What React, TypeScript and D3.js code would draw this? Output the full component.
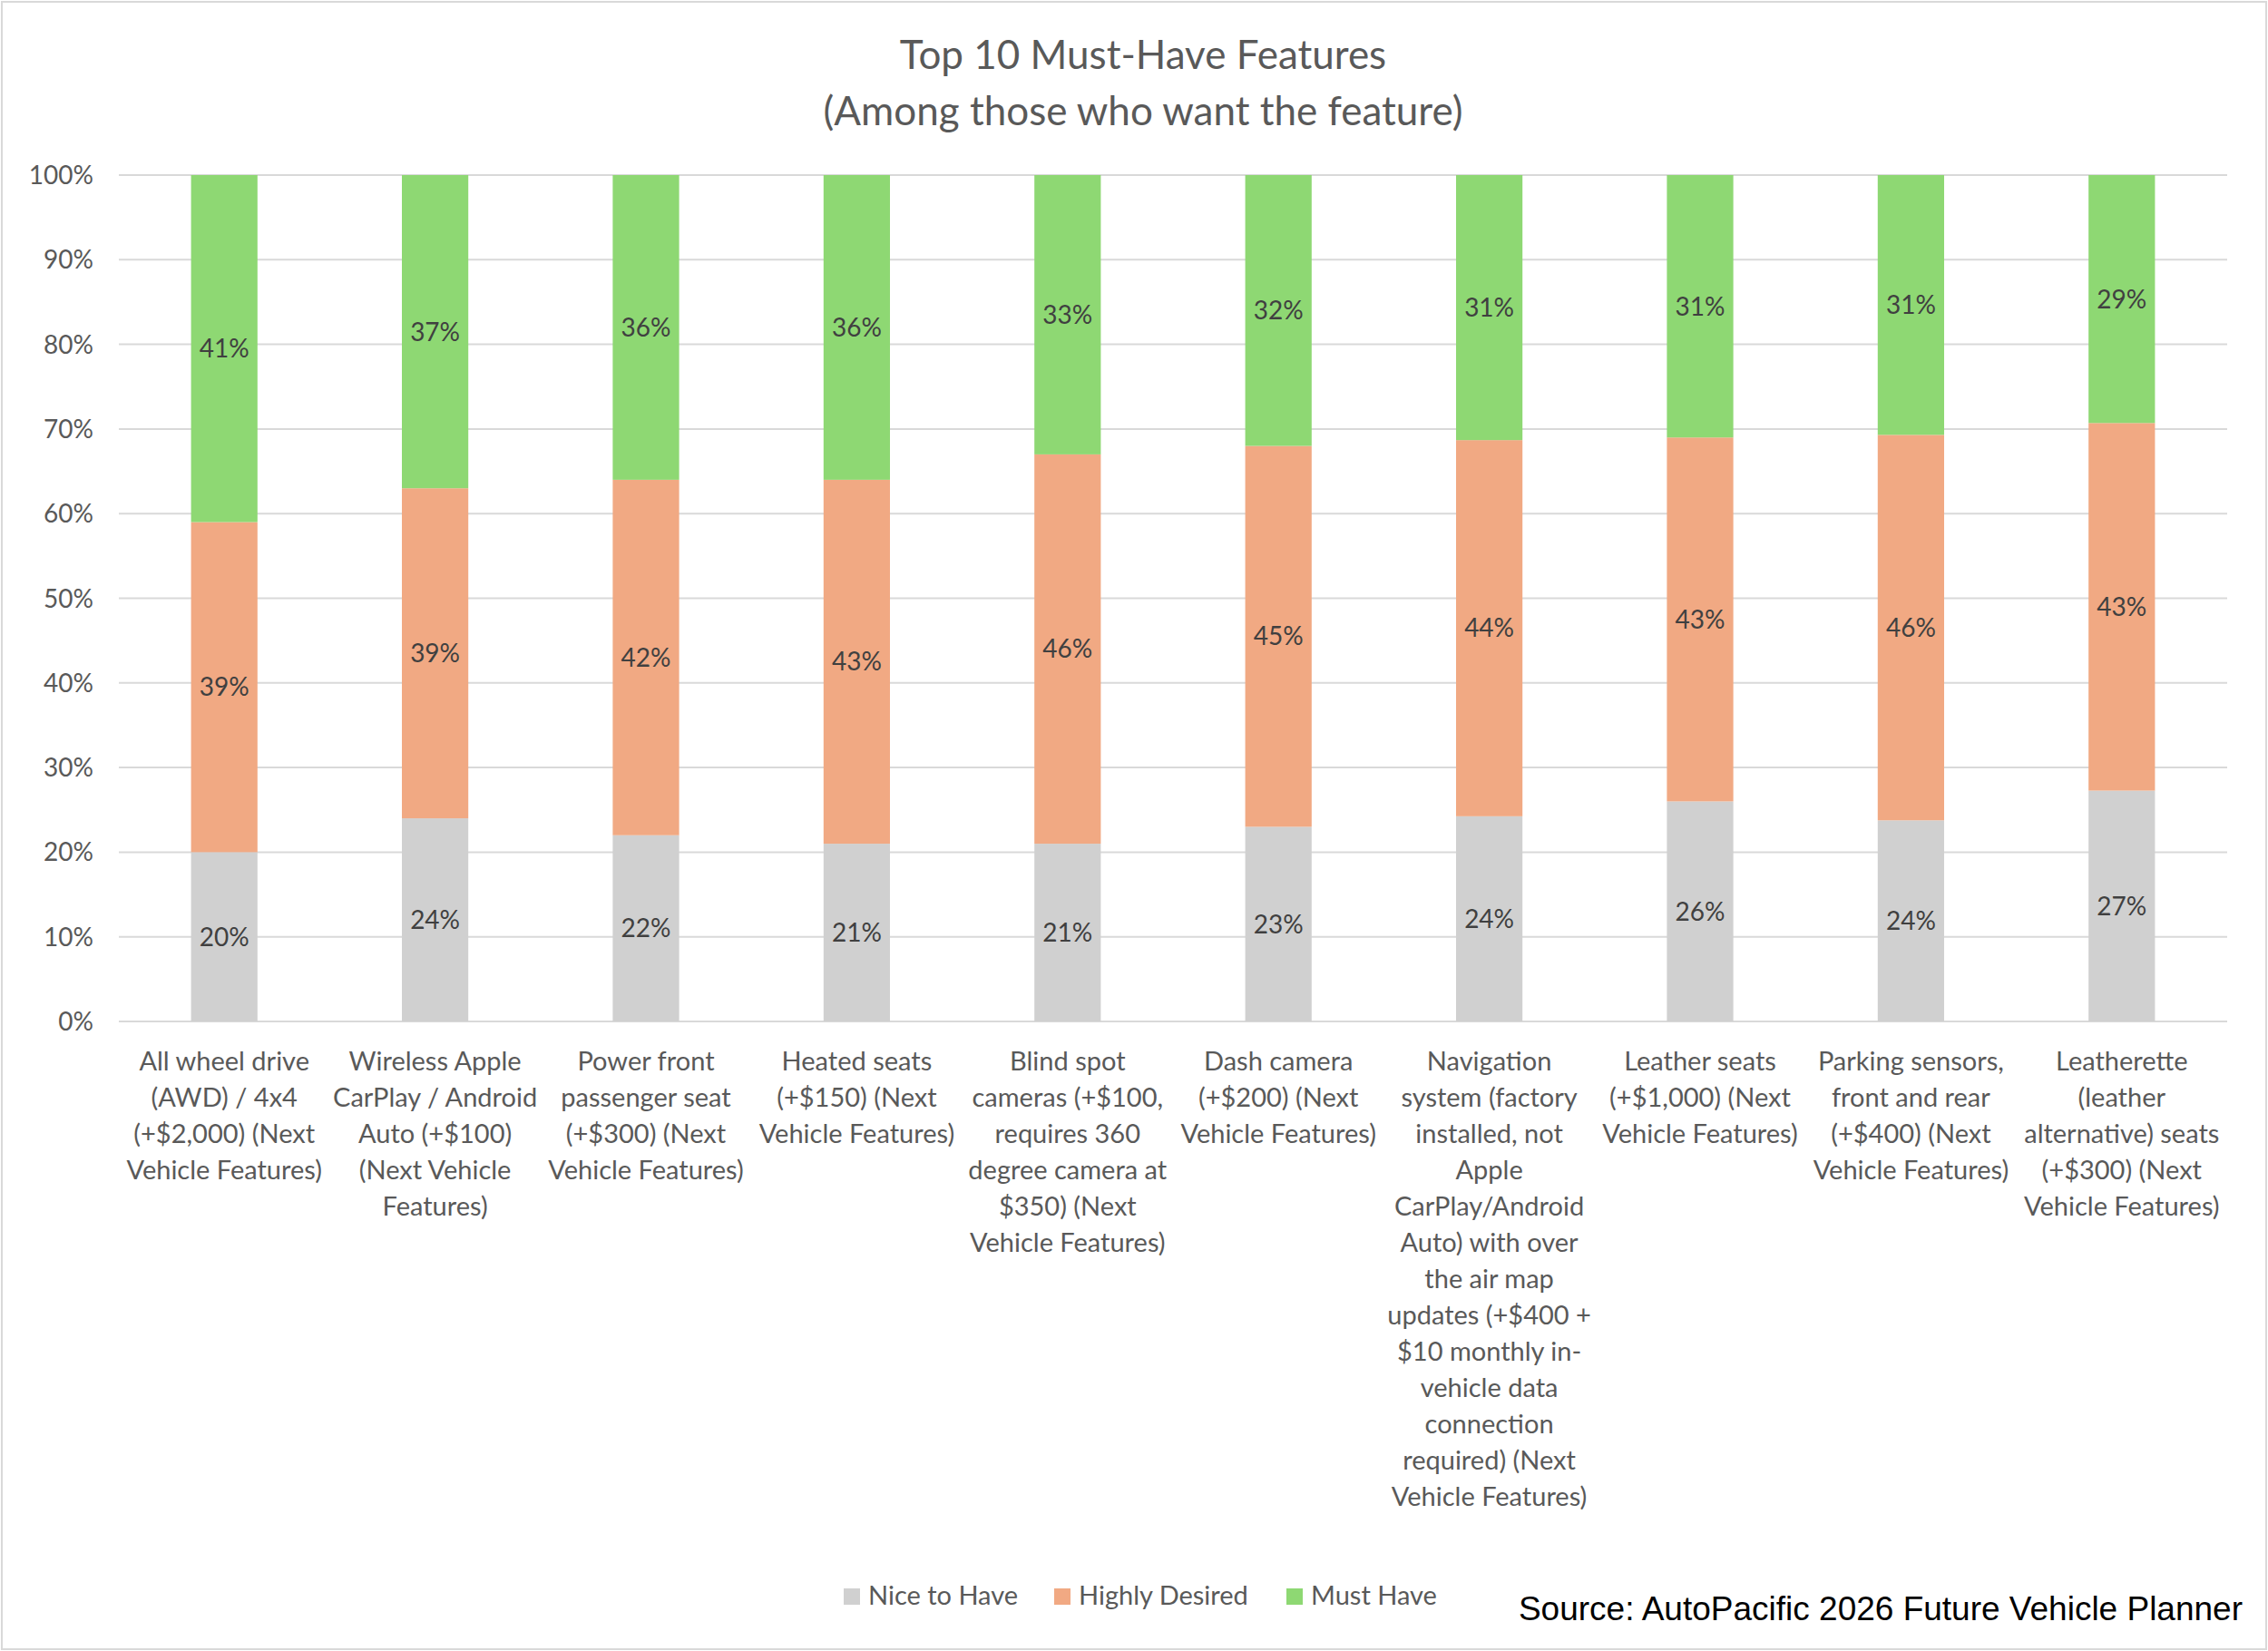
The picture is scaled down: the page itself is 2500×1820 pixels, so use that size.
import React from "react";
import * as d3 from "d3";

const categories: string[][] = [
  ["All wheel drive", "(AWD) / 4x4", "(+$2,000) (Next", "Vehicle Features)"],
  ["Wireless Apple", "CarPlay / Android", "Auto (+$100)", "(Next Vehicle", "Features)"],
  ["Power front", "passenger seat", "(+$300) (Next", "Vehicle Features)"],
  ["Heated seats", "(+$150) (Next", "Vehicle Features)"],
  ["Blind spot", "cameras (+$100,", "requires 360", "degree camera at", "$350) (Next", "Vehicle Features)"],
  ["Dash camera", "(+$200) (Next", "Vehicle Features)"],
  ["Navigation", "system (factory", "installed, not", "Apple", "CarPlay/Android", "Auto) with over", "the air map", "updates (+$400 +", "$10 monthly in-", "vehicle data", "connection", "required) (Next", "Vehicle Features)"],
  ["Leather seats", "(+$1,000) (Next", "Vehicle Features)"],
  ["Parking sensors,", "front and rear", "(+$400) (Next", "Vehicle Features)"],
  ["Leatherette", "(leather", "alternative) seats", "(+$300) (Next", "Vehicle Features)"],
];
const niceToHave = [20, 24, 22, 21, 21, 23, 24, 26, 24, 27];
const highlyDesired = [39, 39, 42, 43, 46, 45, 44, 43, 46, 43];
const mustHave = [41, 37, 36, 36, 33, 32, 31, 31, 31, 29];
const seriesNames = ["Nice to Have", "Highly Desired", "Must Have"];
const colors = ["#d0d0d0", "#f1a983", "#8ed873"];
const yTicks = [0, 0.1, 0.2, 0.3, 0.4, 0.5, 0.6, 0.7, 0.8, 0.9, 1];

const W = 2500, H = 1820;
const M = { left: 131, right: 2455, top: 193, bottom: 1126 };
const FONT = "Lato, 'Open Sans', sans-serif";

export default function App() {
  const keys = ["nice", "high", "must"];
  const rows = categories.map((_, i) => ({ i, nice: niceToHave[i], high: highlyDesired[i], must: mustHave[i] }));
  const stack = d3.stack<any>().keys(keys).offset(d3.stackOffsetExpand)(rows);
  const x = d3.scaleBand<number>().domain(rows.map(r => r.i)).range([M.left, M.right]).paddingInner(0.685).paddingOuter(0.3425);
  const y = d3.scaleLinear().domain([0, 1]).range([M.bottom, M.top]);
  const raw = [niceToHave, highlyDesired, mustHave];
  const legendX = [930, 1162, 1418];
  return (
    <svg width={W} height={H} style={{ display: "block", position: "absolute", left: 0, top: 0 }} fontFamily={FONT}>
      <rect x={0} y={0} width={W} height={H} fill="#fff" />
      <rect x={2} y={2} width={W - 4} height={H - 4} fill="none" stroke="#d9d9d9" strokeWidth={2} />
      <text x={W / 2 + 10} y={76} textAnchor="middle" fontSize={44} fill="#595959">Top 10 Must-Have Features</text>
      <text x={W / 2 + 10} y={138} textAnchor="middle" fontSize={44} fill="#595959">(Among those who want the feature)</text>
      {yTicks.map(t => (
        <g key={t}>
          <line x1={M.left} x2={M.right} y1={y(t)} y2={y(t)} stroke="#d9d9d9" strokeWidth={2} />
          <text x={M.left - 28} y={y(t) + 10} textAnchor="end" fontSize={28} fill="#595959">{Math.round(t * 100)}%</text>
        </g>
      ))}
      {stack.map((s, si) => s.map((d, i) => (
        <g key={si + "-" + i}>
          <rect x={x(i)} width={x.bandwidth()} y={y(d[1])} height={y(d[0]) - y(d[1])} fill={colors[si]} />
          <text x={x(i)! + x.bandwidth() / 2} y={(y(d[0]) + y(d[1])) / 2 + 10} textAnchor="middle" fontSize={28} fill="#404040">{raw[si][i]}%</text>
        </g>
      )))}
      {categories.map((lines, i) => (
        <text key={i} x={x(i)! + x.bandwidth() / 2} fontSize={29} fill="#595959" textAnchor="middle">
          {lines.map((l, j) => <tspan key={j} x={x(i)! + x.bandwidth() / 2} y={1180 + j * 40}>{l}</tspan>)}
        </text>
      ))}
      {seriesNames.map((n, i) => (
        <g key={n}>
          <rect x={legendX[i]} y={1751} width={18} height={18} fill={colors[i]} />
          <text x={legendX[i] + 27} y={1769} fontSize={29} fill="#595959">{n}</text>
        </g>
      ))}
      <text x={2472} y={1786} textAnchor="end" fontSize={37} fill="#000" fontFamily="'Liberation Sans', Arial, sans-serif">Source: AutoPacific 2026 Future Vehicle Planner</text>
    </svg>
  );
}
